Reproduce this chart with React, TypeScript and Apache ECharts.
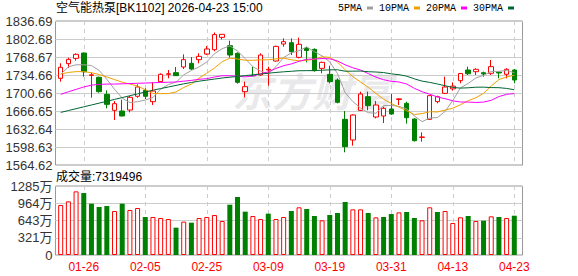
import React, { useEffect, useRef } from "react";
import * as echarts from "echarts";

const dates = [
  "01-21", "01-22", "01-23", "01-26", "01-27", "01-28", "01-29", "01-30", "02-02", "02-03",
  "02-04", "02-05", "02-06", "02-09", "02-10", "02-11", "02-12", "02-13", "02-24", "02-25",
  "02-26", "02-27", "03-02", "03-03", "03-04", "03-05", "03-06", "03-09", "03-10", "03-11",
  "03-12", "03-13", "03-16", "03-17", "03-18", "03-19", "03-20", "03-23", "03-24", "03-25",
  "03-26", "03-27", "03-30", "03-31", "04-01", "04-02", "04-03", "04-07", "04-08", "04-09",
  "04-10", "04-13", "04-14", "04-15", "04-16", "04-17", "04-20", "04-21", "04-22", "04-23",
];

const opens = [
  1728.4, 1756.1, 1766.1, 1776.2, 1734.0, 1730.3, 1698.1, 1667.9, 1666.6, 1668.5,
  1694.4, 1705.7, 1684.3, 1722.1, 1736.0, 1739.1, 1749.8, 1756.7, 1763.6, 1774.3,
  1782.5, 1805.8, 1790.1, 1775.6, 1703.2, 1733.7, 1734.7, 1744.1, 1761.1, 1793.2,
  1795.7, 1768.0, 1785.0, 1783.1, 1747.2, 1735.9, 1725.2, 1650.9, 1611.9, 1667.9,
  1693.7, 1655.3, 1657.2, 1670.4, 1688.5, 1681.1, 1651.5, 1616.8, 1650.9, 1684.3,
  1700.0, 1708.5, 1724.0, 1744.1, 1740.9, 1739.0, 1737.9, 1740.0, 1736.0, 1744.1,
];
const closes = [
  1749.2, 1764.3, 1773.7, 1740.9, 1735.0, 1703.2, 1679.2, 1680.5, 1657.2, 1692.5,
  1712.0, 1694.4, 1704.4, 1735.9, 1737.0, 1733.4, 1763.6, 1746.0, 1769.9, 1783.8,
  1811.0, 1811.5, 1772.4, 1720.8, 1712.6, 1733.1, 1772.4, 1745.4, 1788.8, 1797.6,
  1778.7, 1792.6, 1781.0, 1742.9, 1758.6, 1722.1, 1683.0, 1599.2, 1659.1, 1698.8,
  1676.7, 1678.0, 1671.7, 1661.0, 1689.5, 1654.0, 1610.5, 1617.5, 1695.6, 1693.7,
  1712.0, 1713.5, 1737.5, 1737.0, 1745.4, 1736.6, 1750.4, 1738.5, 1745.4, 1725.2,
];
const lows = [
  1722.0, 1748.5, 1761.7, 1731.5, 1691.8, 1701.3, 1671.7, 1649.6, 1656.6, 1664.1,
  1691.8, 1689.3, 1678.0, 1720.8, 1728.4, 1733.0, 1746.0, 1744.1, 1756.7, 1772.4,
  1779.5, 1802.0, 1767.4, 1718.3, 1692.5, 1732.5, 1733.4, 1714.5, 1759.9, 1788.2,
  1772.4, 1766.1, 1758.6, 1741.0, 1737.8, 1718.9, 1681.1, 1588.6, 1601.1, 1666.6,
  1667.9, 1652.8, 1644.0, 1659.1, 1677.9, 1642.7, 1609.0, 1608.7, 1649.6, 1681.1,
  1698.8, 1705.1, 1719.0, 1734.7, 1734.7, 1731.5, 1734.7, 1728.4, 1728.4, 1719.0,
];
const highs = [
  1756.8, 1767.4, 1775.6, 1777.0, 1739.1, 1731.5, 1705.7, 1685.5, 1688.0, 1695.0,
  1717.0, 1709.5, 1720.8, 1737.8, 1744.1, 1749.8, 1773.7, 1768.7, 1775.6, 1789.5,
  1815.0, 1812.0, 1799.5, 1777.5, 1722.1, 1750.4, 1775.6, 1750.4, 1790.1, 1803.9,
  1803.9, 1805.2, 1788.0, 1785.0, 1759.9, 1752.3, 1728.4, 1666.6, 1660.3, 1703.2,
  1703.2, 1685.5, 1674.8, 1698.8, 1690.5, 1684.3, 1652.8, 1626.3, 1696.9, 1695.6,
  1731.5, 1720.8, 1738.0, 1750.4, 1747.3, 1741.0, 1763.0, 1740.5, 1747.3, 1746.0,
];

const volumes = [
  9310000, 9990000, 11850000, 11540000, 9560000, 8940000, 9120000, 8190000, 9560000, 8380000,
  8750000, 7080000, 7080000, 6890000, 6700000, 5090000, 6210000, 6020000, 6890000, 7080000,
  7450000, 6330000, 9370000, 10800000, 8070000, 7260000, 6700000, 7700000, 6700000, 7080000,
  8190000, 8880000, 8570000, 7260000, 6460000, 7450000, 7820000, 9870000, 8500000, 8500000,
  7820000, 7010000, 7080000, 7630000, 7940000, 8010000, 6890000, 6460000, 8880000, 8010000,
  8190000, 5960000, 7020000, 7260000, 6330000, 6390000, 7200000, 7080000, 6890000, 7319496,
];

const ma5 = [
  1736.0, 1750.0, 1754.0, 1754.0, 1752.6, 1743.4, 1726.4, 1707.8, 1691.0, 1682.5,
  1684.3, 1687.3, 1692.1, 1707.8, 1716.7, 1721.0, 1734.9, 1743.2, 1750.0, 1759.3,
  1774.9, 1784.4, 1789.7, 1779.9, 1765.7, 1750.1, 1742.3, 1736.9, 1750.5, 1767.5,
  1776.6, 1780.6, 1787.7, 1778.6, 1770.8, 1759.4, 1737.5, 1701.2, 1684.4, 1672.4,
  1663.4, 1662.4, 1676.9, 1677.2, 1675.4, 1670.8, 1657.3, 1646.5, 1653.4, 1654.3,
  1665.9, 1686.5, 1710.5, 1718.7, 1729.1, 1734.0, 1741.4, 1741.6, 1743.3, 1739.2,
];
const ma10 = [
  1736.5, 1739.5, 1741.0, 1741.0, 1739.0, 1735.5, 1731.0, 1726.0, 1721.0, 1717.6,
  1713.9, 1706.9, 1699.9, 1699.4, 1699.6, 1702.7, 1711.1, 1717.6, 1728.9, 1738.0,
  1747.9, 1759.7, 1766.5, 1764.9, 1762.5, 1762.5, 1763.4, 1763.3, 1765.2, 1766.6,
  1763.3, 1761.4, 1762.3, 1764.5, 1769.1, 1768.0, 1759.1, 1744.5, 1731.5, 1721.6,
  1711.4, 1699.9, 1689.0, 1680.8, 1673.9, 1667.1, 1659.9, 1661.7, 1665.3, 1664.8,
  1668.4, 1671.9, 1678.5, 1686.1, 1691.7, 1699.9, 1713.9, 1726.0, 1731.0, 1734.2,
];
const ma20 = [
  1698.0, 1703.0, 1707.5, 1712.0, 1715.5, 1717.0, 1717.5, 1717.5, 1718.0, 1718.5,
  1719.0, 1719.5, 1720.0, 1720.5, 1721.0, 1721.5, 1723.0, 1724.5, 1726.5, 1727.8,
  1730.9, 1733.3, 1733.2, 1732.2, 1731.1, 1732.6, 1737.2, 1740.5, 1747.0, 1752.3,
  1755.6, 1760.5, 1764.4, 1764.7, 1765.8, 1765.2, 1761.2, 1753.9, 1748.3, 1744.1,
  1737.4, 1730.7, 1725.7, 1722.7, 1721.5, 1717.6, 1709.5, 1703.1, 1698.4, 1693.2,
  1689.9, 1685.9, 1683.7, 1683.5, 1682.8, 1683.5, 1686.9, 1693.9, 1698.2, 1699.5,
];
const ma30 = [
  1664.0, 1667.5, 1671.0, 1674.5, 1678.0, 1681.5, 1685.0, 1688.5, 1692.0, 1695.5,
  1699.0, 1702.5, 1706.0, 1709.0, 1712.0, 1715.0, 1718.0, 1720.5, 1723.0, 1725.0,
  1727.0, 1729.0, 1730.5, 1732.0, 1733.5, 1735.0, 1736.5, 1738.0, 1739.5, 1740.7,
  1741.7, 1742.7, 1742.9, 1743.0, 1743.7, 1744.4, 1744.5, 1741.8, 1741.9, 1742.1,
  1740.9, 1740.3, 1739.3, 1736.8, 1735.2, 1732.5, 1727.4, 1723.1, 1720.7, 1717.7,
  1714.4, 1711.1, 1709.9, 1710.5, 1711.6, 1711.7, 1710.9, 1710.7, 1709.3, 1706.8,
];

const priceTicks = ["1564.62", "1598.63", "1632.64", "1666.65", "1700.66", "1734.66", "1768.67", "1802.68", "1836.69"];
const volTicks = ["0", "321万", "643万", "964万", "1285万"];
const priceMin = 1564.62;
const priceMax = 1836.69;
const volMax = 12850000;

const titleText = "空气能热泵[BK1102] 2026-04-23 15:00";
const legendNames = ["5PMA", "10PMA", "20PMA", "30PMA"];

const SANS = "'Liberation Sans', Arial, 'Noto Sans CJK SC', sans-serif";
const MONO = "'Liberation Mono', 'DejaVu Sans Mono', monospace";
const UP = "#ff0000";
const DOWN = "#008000";

export default function App() {
  const ref = useRef<HTMLDivElement>(null);

  useEffect(() => {
    if (!ref.current) return;
    const chart = echarts.init(ref.current, undefined, { renderer: "svg" });
    const priceStep = (priceMax - priceMin) / 8;
    const volStep = volMax / 4;
    const labelAt = (i: number) => i % 8 === 3;

    const candleData = dates.map((_, i) => [opens[i], closes[i], lows[i], highs[i]]);
    const volData = volumes.map((v, i) => {
      const prev = i === 0 ? opens[0] : closes[i - 1];
      const up = closes[i] >= prev;
      return {
        value: v,
        itemStyle: up
          ? { color: "#ffffff", borderColor: UP, borderWidth: 1 }
          : { color: DOWN, borderColor: DOWN, borderWidth: 0 },
      };
    });

    const maColors = ["#a0a0a0", "#f0a000", "#ff00ff", "#006633"];
    const maData = [ma5, ma10, ma20, ma30];

    const hiddenY = (gridIndex: number, min: number, max: number) => ({
      type: "value",
      gridIndex,
      min,
      max,
      show: false,
      splitLine: { show: false },
    });

    const option: any = {
      animation: false,
      backgroundColor: "#ffffff",
      title: [
        {
          text: titleText,
          left: 56,
          top: 2,
          padding: 0,
          textStyle: { fontSize: 12, fontWeight: "normal", color: "#000", fontFamily: SANS },
        },
        {
          text: `成交量:${volumes[volumes.length - 1]}`,
          left: 56,
          top: 171,
          padding: 0,
          textStyle: { fontSize: 12, fontWeight: "normal", color: "#000", fontFamily: SANS },
        },
      ],
      legend: {
        data: legendNames,
        left: 338,
        top: 3,
        padding: 0,
        align: "right",
        icon: "rect",
        itemWidth: 6,
        itemHeight: 3,
        itemGap: 6,
        textStyle: { fontSize: 10, color: "#000", fontFamily: MONO },
      },
      grid: [
        { left: 55.5, top: 21, width: 467, height: 144, show: true, borderColor: "#999", borderWidth: 1 },
        { left: 60.7, top: 21, width: 453.6, height: 144 },
        { left: 55.5, top: 186, width: 467, height: 69, show: true, borderColor: "#999", borderWidth: 1 },
        { left: 60.7, top: 186, width: 453.6, height: 69 },
      ],
      xAxis: [
        { type: "value", gridIndex: 0, min: 0, max: 1, show: false },
        {
          type: "category",
          gridIndex: 1,
          data: dates,
          boundaryGap: false,
          axisLine: { show: false },
          axisTick: { show: false },
          axisLabel: { show: false },
          splitLine: { show: true, interval: labelAt, lineStyle: { type: [4, 4], color: "#cccccc", width: 1 } },
        },
        { type: "value", gridIndex: 2, min: 0, max: 1, show: false },
        {
          type: "category",
          gridIndex: 3,
          data: dates,
          boundaryGap: false,
          axisLine: { show: false },
          axisTick: { show: false },
          axisLabel: {
            show: true,
            interval: labelAt,
            color: "#ff0000",
            fontSize: 12,
            margin: 6,
            fontFamily: SANS,
          },
          splitLine: { show: true, interval: labelAt, lineStyle: { type: [4, 4], color: "#cccccc", width: 1 } },
        },
      ],
      yAxis: [
        {
          type: "value",
          gridIndex: 0,
          min: priceMin,
          max: priceMax,
          interval: priceStep,
          axisLine: { show: false },
          axisTick: { show: false },
          axisLabel: {
            margin: 3,
            fontSize: 13,
            color: "#333",
            fontFamily: SANS,
            formatter: (v: number) => priceTicks[Math.round((v - priceMin) / priceStep)] ?? "",
          },
          splitLine: { show: true, lineStyle: { color: "#cccccc", width: 1 } },
        },
        hiddenY(1, priceMin, priceMax),
        {
          type: "value",
          gridIndex: 2,
          min: 0,
          max: volMax,
          interval: volStep,
          axisLine: { show: false },
          axisTick: { show: false },
          axisLabel: {
            margin: 3,
            fontSize: 13,
            color: "#333",
            fontFamily: SANS,
            formatter: (v: number) => volTicks[Math.round(v / volStep)] ?? "",
          },
          splitLine: { show: true, lineStyle: { color: "#cccccc", width: 1 } },
        },
        hiddenY(3, 0, volMax),
      ],
      graphic: [
        {
          type: "text",
          left: 232,
          top: 70,
          z: 0,
          silent: true,
          style: {
            text: "东方财富",
            fontSize: 40,
            fontWeight: "bold",
            fontStyle: "italic",
            fontFamily: "'Noto Sans CJK SC', sans-serif",
            fill: "rgba(180,180,185,0.3)",
          },
        },
      ],
      series: [
        {
          type: "candlestick",
          name: "K",
          xAxisIndex: 1,
          yAxisIndex: 1,
          data: candleData,
          barWidth: 5,
          clip: false,
          itemStyle: {
            color: "#ffffff",
            color0: DOWN,
            borderColor: UP,
            borderColor0: DOWN,
            borderWidth: 1,
          },
          z: 3,
        },
        ...legendNames.map((name, k) => ({
          type: "line",
          name,
          xAxisIndex: 1,
          yAxisIndex: 1,
          data: maData[k],
          symbol: "none",
          showSymbol: false,
          clip: false,
          lineStyle: { color: maColors[k], width: 1 },
          itemStyle: { color: maColors[k] },
          z: 4,
        })),
        {
          type: "bar",
          name: "VOL",
          xAxisIndex: 3,
          yAxisIndex: 3,
          data: volData,
          barWidth: 5,
          clip: false,
        },
      ],
    };

    chart.setOption(option);
    return () => chart.dispose();
  }, []);

  return (
    <div
      ref={ref}
      style={{ position: "absolute", left: 0, top: 0, width: 578, height: 276 }}
    />
  );
}
